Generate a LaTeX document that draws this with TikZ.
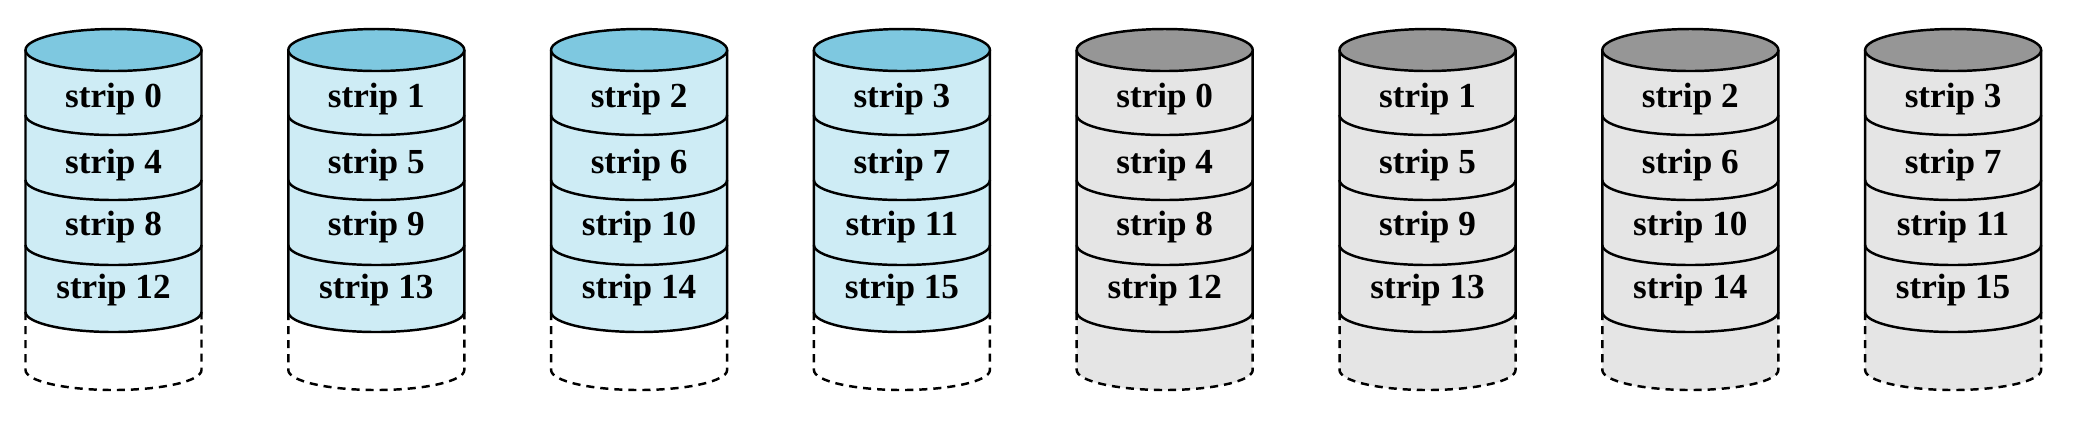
\documentclass[tikz,border=0pt]{standalone}
\usepackage{fontspec}
\setmainfont{Liberation Serif}
\usetikzlibrary{positioning}
\definecolor{bluetop}{RGB}{126,200,224}
\definecolor{bluebody}{RGB}{206,236,245}
\definecolor{greytop}{RGB}{150,150,150}
\definecolor{greybody}{RGB}{229,229,229}

\begin{document}
\begin{tikzpicture}[x=0.01cm,y=0.01cm,font=\bfseries\fontsize{10}{12}\selectfont]
  \tikzset{
    rim/.style={draw,line width=0.7pt},
    spare/.style={draw,line width=0.7pt,dash pattern=on 2.3pt off 1.7pt},
    striptext/.style={anchor=base,inner sep=0pt}
  }
  \useasboundingbox (0,0) rectangle (2092,438);

  % eight disks: four blue, four grey
  \foreach \d in {0,...,7} {
    \pgfmathsetmacro{\cx}{113.5+262.8*\d}
    \pgfmathtruncatemacro{\col}{mod(\d,4)}
    \ifnum\d<4
      \def\topcol{bluetop}\def\bodycol{bluebody}\def\sparecol{white}
    \else
      \def\topcol{greytop}\def\bodycol{greybody}\def\sparecol{greybody}
    \fi

    % empty part below the strips
    \fill[\sparecol] (\cx-88,126) -- (\cx-88,68)
      arc[start angle=180,end angle=360,x radius=88,y radius=20] -- (\cx+88,126) -- cycle;
    \draw[spare] (\cx-88,126) -- (\cx-88,68)
      arc[start angle=180,end angle=360,x radius=88,y radius=20] -- (\cx+88,126);

    % body and lid
    \filldraw[rim,fill=\bodycol] (\cx-88,388) -- (\cx-88,126)
      arc[start angle=180,end angle=360,x radius=88,y radius=20] -- (\cx+88,388);
    \filldraw[rim,fill=\topcol] (\cx,388) ellipse[x radius=88,y radius=21];
    \foreach \y in {323,258,193}
      \draw[rim] (\cx-88,\y) arc[start angle=180,end angle=360,x radius=88,y radius=20];

    % strip labels
    \foreach \by/\r in {331/0,265/1,203/2,140/3} {
      \pgfmathtruncatemacro{\n}{4*\r+\col}
      \node[striptext] (s\d-\r) at (\cx,\by) {strip \n};
    }
  }
\end{tikzpicture}
\end{document}
